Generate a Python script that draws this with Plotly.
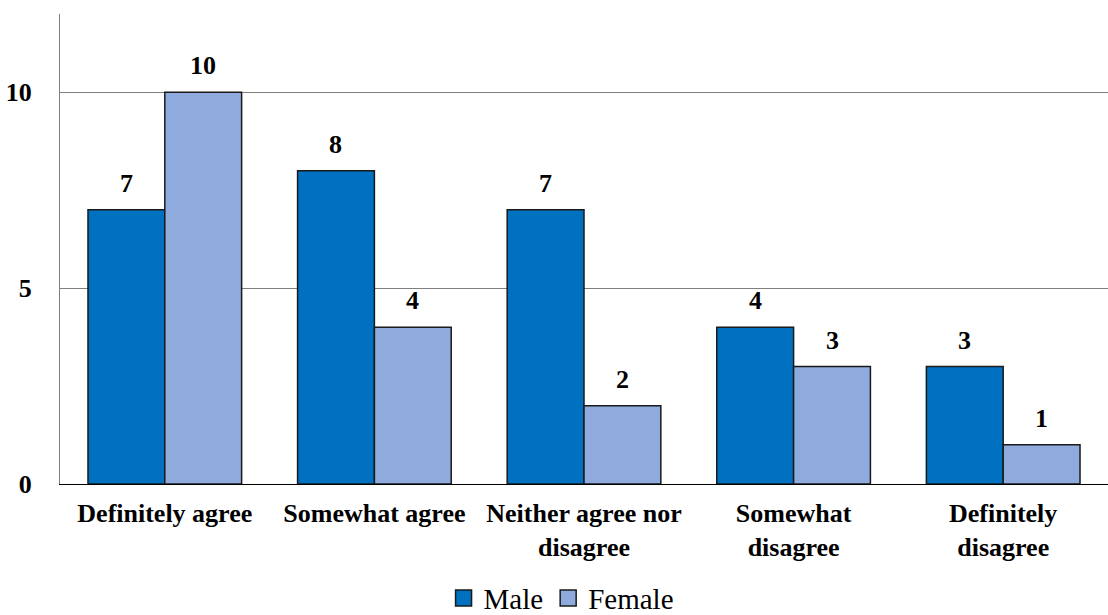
import plotly.graph_objects as go

categories = ["Definitely agree", "Somewhat agree", "Neither agree nor<br>disagree",
              "Somewhat<br>disagree", "Definitely<br>disagree"]
male = [7, 8, 7, 4, 3]
female = [10, 4, 2, 3, 1]
y_ticks = [0, 5, 10]

serif = "Liberation Serif"
male_color = "#0070C0"
female_color = "#8FAADC"
edge = "#1a1a1a"

fig = go.Figure()
fig.add_trace(go.Bar(
    name="Male", x=categories, y=male, showlegend=False,
    marker=dict(color=male_color, line=dict(color=edge, width=1.5)),
))
fig.add_trace(go.Bar(
    name="Female", x=categories, y=female, showlegend=False,
    marker=dict(color=female_color, line=dict(color=edge, width=1.5)),
))

# legend keys drawn as larger squares than the default bar swatch
for name, color in (("Male", male_color), ("Female", female_color)):
    fig.add_trace(go.Scatter(
        name=name, x=[None], y=[None], mode="markers",
        marker=dict(symbol="square", size=16, color=color, line=dict(color=edge, width=1.5)),
    ))

# value labels above each bar
bar_half = 38.5
for cat, m, f in zip(categories, male, female):
    for val, shift in ((m, -bar_half), (f, bar_half)):
        fig.add_annotation(x=cat, y=val, text=f"<b>{val}</b>", showarrow=False,
                           xshift=shift, yshift=10, yanchor="bottom",
                           font=dict(family=serif, size=26, color="black"))

fig.update_layout(
    width=1108, height=615,
    margin=dict(l=60, r=0, t=14, b=131, autoexpand=False),
    paper_bgcolor="white", plot_bgcolor="white",
    barmode="group", bargap=0.267, bargroupgap=0,
    font=dict(family=serif, color="black"),
    showlegend=True,
    legend=dict(orientation="h", x=0.366, xanchor="left", y=-0.243, yanchor="middle",
                font=dict(family=serif, size=29), itemwidth=30, traceorder="normal",
                tracegroupgap=0),
    xaxis=dict(showline=True, linecolor="black", linewidth=1, ticks="", automargin=False,
               tickfont=dict(family=serif, size=26, weight="bold"), ticklabelstandoff=6),
    yaxis=dict(range=[0, 12], tickvals=y_ticks, showgrid=True, gridcolor="#7f7f7f", gridwidth=1,
               showline=True, linecolor="#7f7f7f", linewidth=1, zeroline=False, automargin=False,
               tickfont=dict(family=serif, size=26, weight="bold"),
               ticks="", ticklabelstandoff=22),
)

fig.write_html("out.html")
